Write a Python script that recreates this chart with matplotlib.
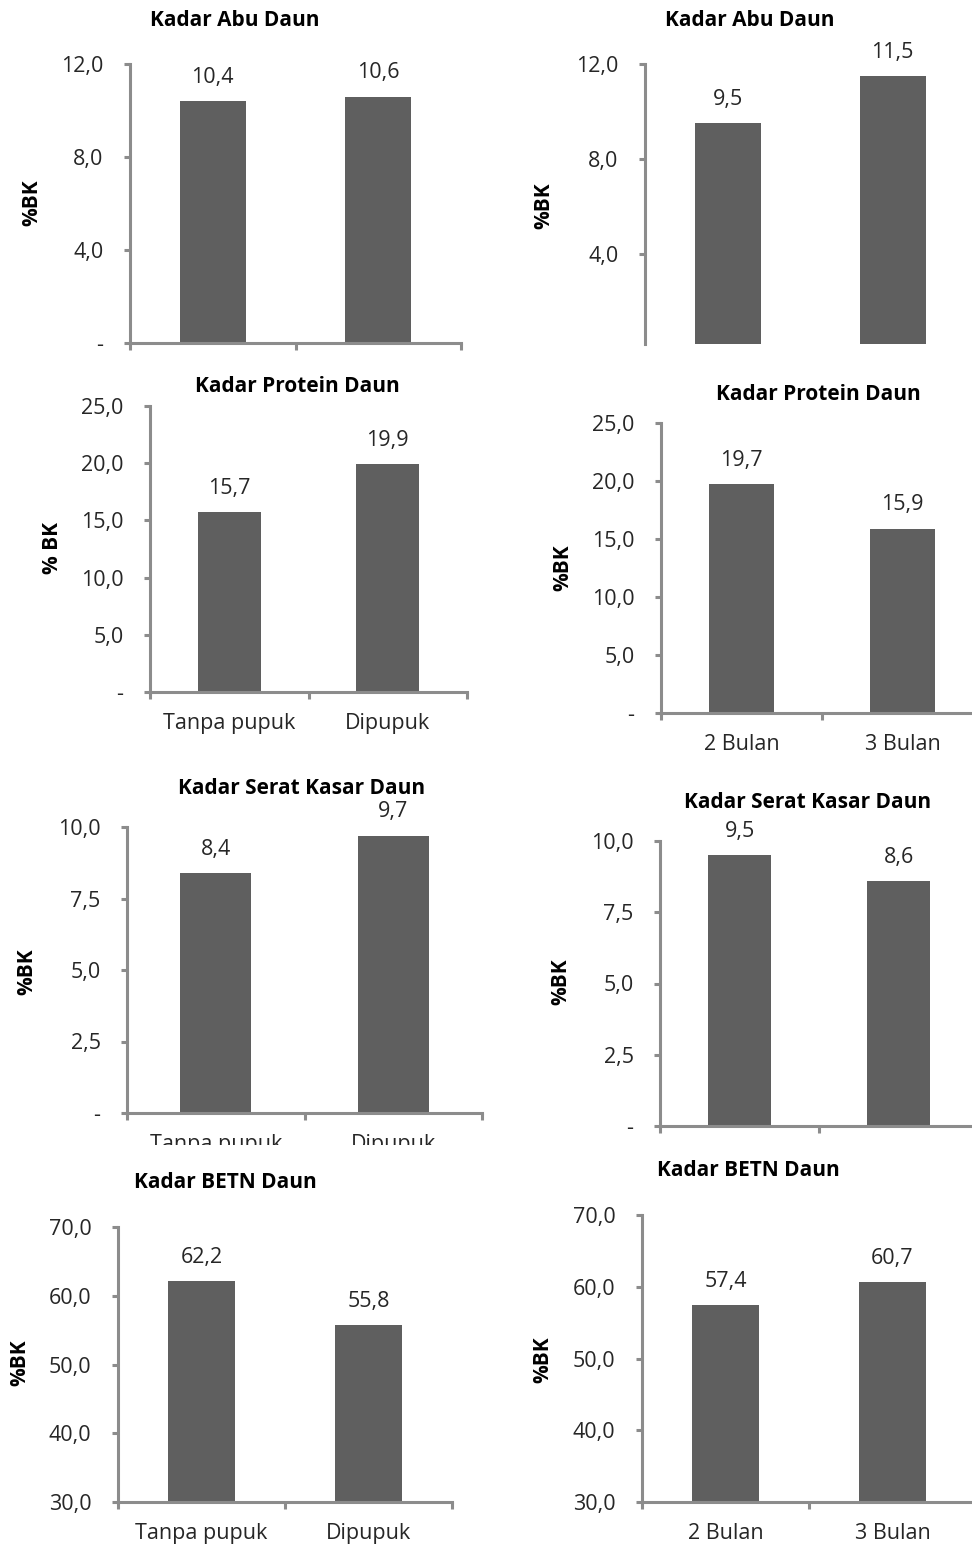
import matplotlib
matplotlib.use("Agg")
import matplotlib.pyplot as plt
from matplotlib.patches import Rectangle

# ---------------- DATA ----------------
cat_pupuk = ["Tanpa pupuk", "Dipupuk"]
cat_umur = ["2 Bulan", "3 Bulan"]

abu_pupuk = [10.4, 10.6]
abu_umur = [9.5, 11.5]
protein_pupuk = [15.7, 19.9]
protein_umur = [19.7, 15.9]
serat_pupuk = [8.4, 9.7]
serat_umur = [9.5, 8.6]
betn_pupuk = [62.2, 55.8]
betn_umur = [57.4, 60.7]

ticks_abu = [0, 4, 8, 12]
ticks_protein = [0, 5, 10, 15, 20, 25]
ticks_serat = [0, 2.5, 5, 7.5, 10]
ticks_betn = [30, 40, 50, 60, 70]

# ---------------- STYLE ----------------
W, H = 972, 1546
BAR = "#5f5f5f"
AXIS = "#8c8c8c"
TXT = "#262626"
FS = 15.5
plt.rcParams["font.family"] = ["Open Sans", "DejaVu Sans"]

fig = plt.figure(figsize=(W / 100, H / 100), dpi=100)


def fmt(v, dash):
    if v == 0 and dash:
        return "-"
    return f"{v:.1f}".replace(".", ",")


def panel(box, values, cats, ylim, yticks, title, title_xy, ylabel, ylabel_xy,
          xaxis=True, show_cats=True, dash=True):
    left, top, right, bottom = box
    ax = fig.add_axes([left / W, 1 - bottom / H, (right - left) / W, (bottom - top) / H])
    ax.bar(range(len(values)), values, width=0.4, color=BAR, zorder=2)
    ax.set_xlim(-0.5, len(values) - 0.5)
    ax.set_ylim(*ylim)

    for s in ["top", "right"]:
        ax.spines[s].set_visible(False)
    ax.spines["left"].set_color(AXIS)
    ax.spines["left"].set_linewidth(2.2)
    ax.spines["bottom"].set_color(AXIS)
    ax.spines["bottom"].set_linewidth(2.2)
    ax.spines["bottom"].set_visible(xaxis)

    ax.set_yticks(yticks)
    ax.set_yticklabels([fmt(v, dash) for v in yticks])
    ax.tick_params(axis="y", direction="out", length=4, width=2.2, color=AXIS,
                   pad=15, labelsize=FS, labelcolor=TXT)

    ax.set_xticks(range(len(values)))
    ax.set_xticklabels(cats if show_cats else [])
    ax.tick_params(axis="x", which="major", length=0, pad=15, labelsize=FS, labelcolor=TXT)
    if xaxis:
        ax.set_xticks([i - 0.5 for i in range(len(values) + 1)], minor=True)
        ax.tick_params(axis="x", which="minor", direction="out", length=5, width=2.2, color=AXIS)

    for i, v in enumerate(values):
        ax.annotate(fmt(v, False), (i, v), xytext=(0, 17), textcoords="offset points",
                    ha="center", va="center", fontsize=FS, color=TXT)

    fig.text(title_xy[0] / W, 1 - title_xy[1] / H, title, ha="center", va="center",
             fontsize=15, fontweight="bold", color="black")
    fig.text(ylabel_xy[0] / W, 1 - ylabel_xy[1] / H, ylabel, ha="center", va="center",
             rotation=90, fontsize=15, fontweight="bold", color="black")
    return ax


# ---------------- PANELS ----------------
panel((130, 64, 461, 343), abu_pupuk, cat_pupuk, (0, 12), ticks_abu,
      "Kadar Abu Daun", (235, 20), "%BK", (32, 203), show_cats=False)
panel((645, 64, 975, 344), abu_umur, cat_umur, (0.2, 12), ticks_abu[1:],
      "Kadar Abu Daun", (750, 20), "%BK", (544, 206), xaxis=False, show_cats=False)

panel((150, 406, 467, 692), protein_pupuk, cat_pupuk, (0, 25), ticks_protein,
      "Kadar Protein Daun", (297, 386), "% BK", (52, 548))
panel((661, 423, 983, 713), protein_umur, cat_umur, (0, 25), ticks_protein,
      "Kadar Protein Daun", (818, 395), "%BK", (563, 568))

panel((127, 827, 482, 1113), serat_pupuk, cat_pupuk, (0, 10), ticks_serat,
      "Kadar Serat Kasar Daun", (302, 788), "%BK", (27, 972))
panel((660, 841, 978, 1126), serat_umur, cat_umur, (0, 10), ticks_serat,
      "Kadar Serat Kasar Daun", (808, 802), "%BK", (561, 982), show_cats=False)

panel((118, 1227, 452, 1502), betn_pupuk, cat_pupuk, (30, 70), ticks_betn,
      "Kadar BETN Daun", (225, 1183), "%BK", (20, 1363), dash=False)
panel((642, 1215, 976, 1502), betn_umur, cat_umur, (30, 70), ticks_betn,
      "Kadar BETN Daun", (748, 1170), "%BK", (543, 1360), dash=False)

# the serat kasar chart is cut just below its category labels
fig.add_artist(Rectangle((0, 1 - 1166 / H), 486 / W, 21 / H, transform=fig.transFigure,
                         facecolor="white", edgecolor="none", zorder=10))

fig.savefig("out.png", dpi=100)
